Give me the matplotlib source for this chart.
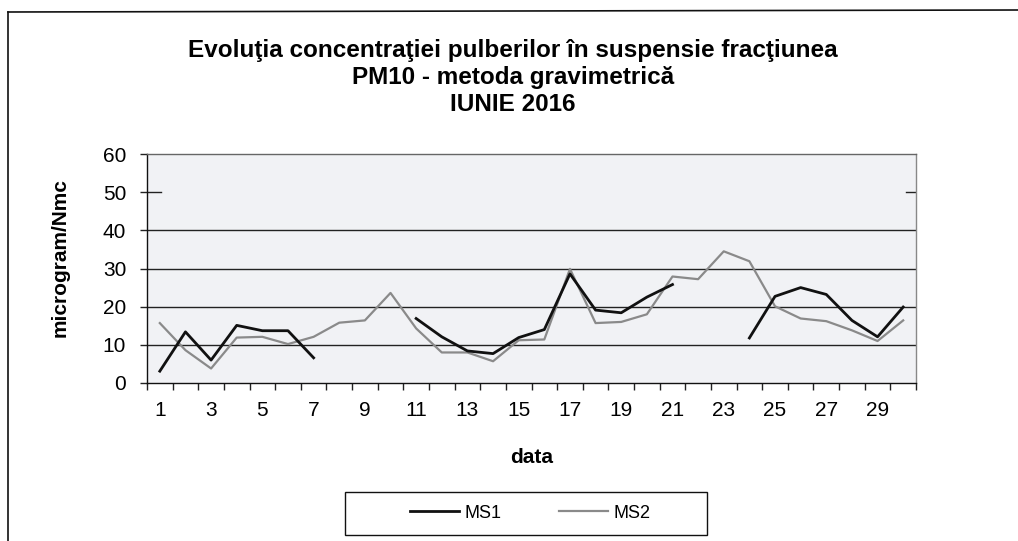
import numpy as np
import matplotlib
matplotlib.use("Agg")
import matplotlib.pyplot as plt
from matplotlib.lines import Line2D
from matplotlib.patches import Rectangle

plt.rcParams["font.family"] = ["Liberation Sans", "DejaVu Sans"]

days = list(range(1, 31))
nan = np.nan
ms1 = [3.1, 13.4, 6.0, 15.1, 13.7, 13.7, 6.6, nan, nan, nan,
       16.9, 12.1, 8.4, 7.7, 11.9, 14.0, 28.6, 19.1, 18.4, 22.5,
       25.8, nan, nan, 11.8, 22.7, 25.0, 23.2, 16.4, 12.1, 19.9]
ms2 = [15.7, 8.6, 3.8, 11.9, 12.1, 10.2, 12.1, 15.8, 16.4, 23.6,
       14.3, 8.0, 8.0, 5.7, 11.2, 11.4, 29.9, 15.7, 16.0, 18.0,
       27.9, 27.2, 34.5, 31.9, 20.1, 16.9, 16.2, 13.8, 11.0, 16.4]
title_lines = ["Evoluţia concentraţiei pulberilor în suspensie fracţiunea",
               "PM10 - metoda gravimetrică",
               "IUNIE 2016"]
y_ticks = [0, 10, 20, 30, 40, 50, 60]
grid_levels = [10, 20, 30, 40]

W, H = 1018, 541
fig = plt.figure(figsize=(W / 100, H / 100), dpi=100)
fig.patch.set_facecolor("white")


def fx(px):
    return px / W


def fy(py):
    return 1 - py / H


ax = fig.add_axes([fx(147), fy(383), fx(916) - fx(147), fy(154) - fy(383)])
ax.set_facecolor("#f1f2f5")

for g in grid_levels:
    ax.axhline(g, color="#222222", lw=1.0, zorder=1)
# the 50 line only shows as short stubs at both ends
ax.axhline(50, xmin=0, xmax=0.018, color="#222222", lw=1.0, zorder=1)
ax.axhline(50, xmin=0.987, xmax=1, color="#222222", lw=1.0, zorder=1)

ax.plot(days, ms2, color="#8a8a8a", lw=1.6, label="MS2", zorder=2)
ax.plot(days, ms1, color="#111111", lw=2.0, label="MS1", zorder=3)

ax.set_xlim(0.5, 30.5)
ax.set_ylim(0, 60)
ax.set_yticks(y_ticks)
ax.set_xticks(days[::2])
ax.set_xticks(np.arange(0.5, 31, 1), minor=True)
ax.tick_params(axis="x", which="major", length=0, labelsize=15, pad=13)
ax.tick_params(axis="x", which="minor", length=5, width=1, direction="out", color="#222222")
ax.tick_params(axis="y", length=5, width=1, direction="out", labelsize=15, pad=10, color="#222222")

ax.spines["left"].set_color("#111111")
ax.spines["bottom"].set_color("#111111")
ax.spines["top"].set_color("#666666")
ax.spines["right"].set_color("#888888")
for s in ax.spines.values():
    s.set_linewidth(1.0)

ax.set_xlabel("data", fontsize=15, fontweight="bold", labelpad=20)
fig.text(fx(60), fy(258), "microgram/Nmc", rotation=90, ha="center", va="center",
         fontsize=15, fontweight="bold")

for i, line in enumerate(title_lines):
    fig.text(fx(513), fy(57 + i * 27), line, ha="center", va="baseline",
             fontsize=17.5, fontweight="bold")

handles, labels = ax.get_legend_handles_labels()
leg = fig.legend(handles[::-1], labels[::-1], loc="center", ncol=2,
                 bbox_to_anchor=(fx(530), fy(513)), frameon=False,
                 fontsize=13, handlelength=2.7, handletextpad=0.3,
                 columnspacing=3.2)
fig.add_artist(Rectangle((fx(345), fy(535)), fx(707) - fx(345), fy(492) - fy(535),
                         transform=fig.transFigure, fill=False, edgecolor="#111111", lw=1.0))

# outer frame of the scanned chart
fig.add_artist(Line2D([fx(8), fx(8)], [fy(12), 0], transform=fig.transFigure,
                      color="#111111", lw=1.2))
fig.add_artist(Line2D([fx(8), 1], [fy(12), fy(10)], transform=fig.transFigure,
                      color="#111111", lw=1.2))

fig.savefig("out.png", dpi=100)
